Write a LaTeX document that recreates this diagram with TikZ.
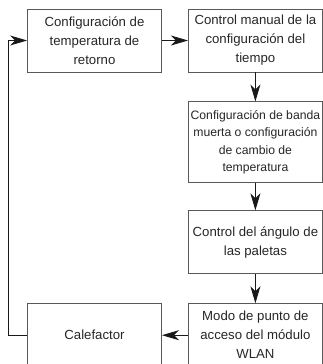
\documentclass[tikz,border=0pt]{standalone}
\usepackage{fontspec}
\setmainfont{Liberation Sans}
\usepackage{tikz}
\usetikzlibrary{arrows.meta,positioning}

\begin{document}
\begin{tikzpicture}[
  x=1pt, y=-1pt,
  every node/.style={font=\fontsize{13.2}{19}\selectfont, text=black!85},
  box/.style={draw=black!65, line width=0.9pt, minimum width=134pt,
              minimum height=63pt, align=center, inner sep=1pt},
  tallbox/.style={box, minimum height=81pt, font=\fontsize{12.2}{17.5}\selectfont},
  arr/.style={-{Stealth[length=17pt, width=10pt, inset=5pt]}, line width=0.9pt, black!90}
]
\useasboundingbox (0,0) rectangle (322,364);

% Top row
\node[box] (ret) at (94.5,40.5) {Configuración de\\temperatura de\\retorno};
\node[box, right=26pt of ret] (man) {Control manual de la\\configuración del\\tiempo};

% Right column, going down
\node[tallbox, below=29pt of man] (band) {Configuración de banda\\muerta o configuración\\de cambio de\\temperatura};
\node[box, below=27pt of band] (pal)  {Control del ángulo de\\las paletas};
\node[box, below=29pt of pal]  (wlan) {Modo de punto de\\acceso del módulo\\WLAN};

% Bottom left
\node[box, left=26pt of wlan] (cal) {Calefactor};

% Flow arrows
\draw[arr] (ret) -- (man);
\draw[arr] (man) -- (band);
\draw[arr] (band) -- (pal);
\draw[arr] (pal) -- (wlan);
\draw[arr] (wlan) -- (cal);

% Loop back to the start
\draw[arr] (cal.west) -- ++(-19,0) |- (ret.west);
\end{tikzpicture}
\end{document}
